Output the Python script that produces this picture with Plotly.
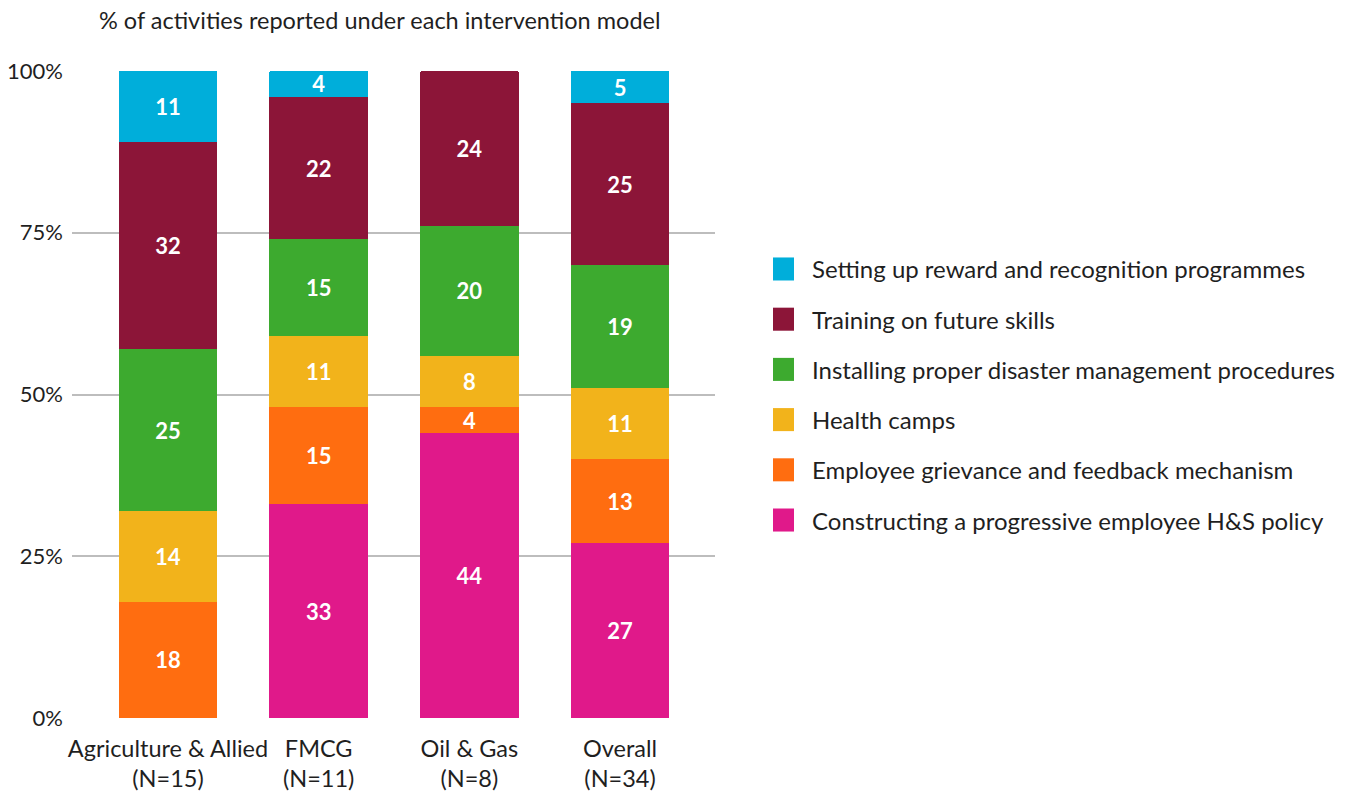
import plotly.graph_objects as go

# Sectors on the x axis
categories = ["Agriculture & Allied", "FMCG", "Oil & Gas", "Overall"]
sample_sizes = [15, 11, 8, 34]

# Share of activities (%) per intervention model, bottom of stack first
hs_policy = [0, 33, 44, 27]
grievance = [18, 15, 4, 13]
health_camps = [14, 11, 8, 11]
disaster_mgmt = [25, 15, 20, 19]
future_skills = [32, 22, 24, 25]
reward_recognition = [11, 4, 0, 5]

series_names = [
    "Constructing a progressive employee H&S policy",
    "Employee grievance and feedback mechanism",
    "Health camps",
    "Installing proper disaster management procedures",
    "Training on future skills",
    "Setting up reward and recognition programmes",
]
series_values = [hs_policy, grievance, health_camps, disaster_mgmt, future_skills, reward_recognition]
series_colors = ["#E0198A", "#FF6D10", "#F2B31B", "#3DAA2F", "#8C1538", "#00AEDA"]

y_ticks = [0, 25, 50, 75, 100]

FONT = "Lato, 'Open Sans', sans-serif"
TEXT = "#1f1f1f"

x_pos = list(range(len(categories)))
tick_text = [f"{c}<br>({'N=' + str(n)})" for c, n in zip(categories, sample_sizes)]

fig = go.Figure()
for name, vals, color in zip(series_names, series_values, series_colors):
    fig.add_trace(go.Bar(
        x=x_pos,
        y=vals,
        name=name,
        marker=dict(color=color, line=dict(width=0)),
        width=0.655,
        text=[str(v) if v else "" for v in vals],
        textposition="inside",
        insidetextanchor="middle",
        textangle=0,
        constraintext="none",
        textfont=dict(family=FONT, size=22, color="white", weight="bold"),
        showlegend=False,
        hoverinfo="skip",
    ))

# Legend drawn as squares + labels, top entry = top of the stack
row_top = 0.694
row_step = 0.0776
for i, (name, color) in enumerate(zip(series_names[::-1], series_colors[::-1])):
    yc = row_top - i * row_step
    fig.add_shape(type="rect", xref="paper", yref="paper",
                  x0=1.0902, x1=1.1229, y0=yc - 0.0178, y1=yc + 0.0178,
                  fillcolor=color, line=dict(width=0))
    fig.add_annotation(xref="paper", yref="paper", x=1.1477, y=yc,
                       text=name, showarrow=False, xanchor="left", yanchor="middle",
                       font=dict(family=FONT, size=24, color=TEXT))

fig.add_annotation(xref="paper", yref="paper", x=0.479, y=1.0788,
                   text="% of activities reported under each intervention model",
                   showarrow=False, xanchor="center", yanchor="middle",
                   font=dict(family=FONT, size=23.5, color=TEXT))

fig.update_layout(
    width=1356,
    height=792,
    barmode="stack",
    barcornerradius=2,
    paper_bgcolor="white",
    plot_bgcolor="white",
    margin=dict(l=72, r=641, t=71, b=74),
    font=dict(family=FONT, color=TEXT),
    xaxis=dict(
        range=[-0.637, 3.63],
        tickvals=x_pos,
        ticktext=tick_text,
        tickfont=dict(family=FONT, size=23.5, color=TEXT),
        showgrid=False,
        zeroline=False,
        showline=False,
        ticks="",
        ticklabelstandoff=14,
        automargin=False,
    ),
    yaxis=dict(
        range=[0, 100],
        tickvals=y_ticks,
        ticktext=[f"{t}%" for t in y_ticks],
        tickfont=dict(family=FONT, size=22, color=TEXT),
        showgrid=True,
        gridcolor="#BDBDBD",
        gridwidth=1.5,
        zeroline=False,
        ticks="",
        ticklabelstandoff=8,
        automargin=False,
    ),
)

fig.write_html("out.html")
